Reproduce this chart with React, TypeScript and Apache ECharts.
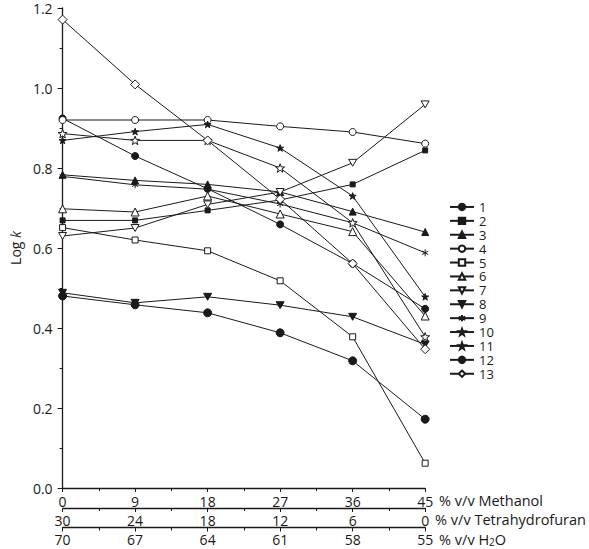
import React, { useEffect, useRef } from 'react';
import * as echarts from 'echarts';

const methanol = [0, 9, 18, 27, 36, 45];
const thfLabels = ['30', '24', '18', '12', '6', '0'];
const h2oLabels = ['70', '67', '64', '61', '58', '55'];
const seriesNames = ['1', '2', '3', '4', '5', '6', '7', '8', '9', '10', '11', '12', '13'];

const s1 = [0.924, 0.83, 0.748, 0.659, 0.561, 0.448];
const s2 = [0.669, 0.669, 0.694, 0.72, 0.759, 0.844];
const s3 = [0.783, 0.769, 0.759, 0.74, 0.691, 0.64];
const s4 = [0.92, 0.92, 0.92, 0.904, 0.89, 0.861];
const s5 = [0.651, 0.62, 0.593, 0.518, 0.378, 0.062];
const s6 = [0.698, 0.69, 0.73, 0.685, 0.641, 0.43];
const s7 = [0.63, 0.65, 0.709, 0.74, 0.813, 0.959];
const s8 = [0.488, 0.463, 0.478, 0.457, 0.428, 0.359];
const s9 = [0.779, 0.758, 0.747, 0.71, 0.663, 0.588];
const s10 = [0.886, 0.869, 0.869, 0.8, 0.663, 0.378];
const s11 = [0.869, 0.891, 0.909, 0.85, 0.73, 0.478];
const s12 = [0.48, 0.458, 0.438, 0.388, 0.318, 0.172];
const s13 = [1.171, 1.009, 0.869, 0.722, 0.561, 0.347];
const allValues = [s1, s2, s3, s4, s5, s6, s7, s8, s9, s10, s11, s12, s13];

const STAR = 'path://M0,-10L2.35,-3.24L9.51,-3.09L3.8,1.24L5.88,8.09L0,4L-5.88,8.09L-3.8,1.24L-9.51,-3.09L-2.35,-3.24Z';
const TRI_DOWN = 'path://M0,0L10,0L5,8.66Z';
const ASTER = 'path://M5,0L5,10M0.67,2.5L9.33,7.5M0.67,7.5L9.33,2.5';

const markers = [
  { symbol: 'circle', size: 7, filled: true },
  { symbol: 'rect', size: 5, filled: true },
  { symbol: 'triangle', size: 7, filled: true },
  { symbol: 'circle', size: 7, filled: false },
  { symbol: 'rect', size: 6, filled: false },
  { symbol: 'triangle', size: 8, filled: false },
  { symbol: TRI_DOWN, size: 8, filled: false },
  { symbol: TRI_DOWN, size: 8, filled: true },
  { symbol: ASTER, size: 7, filled: true },
  { symbol: STAR, size: 9, filled: false },
  { symbol: STAR, size: 7, filled: true },
  { symbol: 'circle', size: 8, filled: true },
  { symbol: 'diamond', size: 9, filled: false },
];

const FONT = 'Open Sans';
const INK = '#1a1a1a';

function makeXAxis(offset: number, labels: string[] | null, name: string, margin: number, namePad: number, rich?: any) {
  return {
    type: 'value',
    min: 0,
    max: 45,
    interval: 9,
    position: 'bottom',
    offset,
    axisLine: { show: true, onZero: false, lineStyle: { color: INK, width: 1.3 } },
    axisTick: { show: true, inside: false, length: 4, lineStyle: { color: INK, width: 1 } },
    minorTick: { show: true, splitNumber: 2, length: 3, lineStyle: { color: INK, width: 1 } },
    splitLine: { show: false },
    minorSplitLine: { show: false },
    axisLabel: {
      fontSize: 14,
      lineHeight: 12,
      fontFamily: FONT,
      color: INK,
      margin,
      formatter: (v: number) => (labels ? labels[Math.round(v / 9)] : String(v)),
    },
    name,
    nameLocation: 'end',
    nameGap: 2,
    nameTextStyle: {
      fontSize: 14.5,
      lineHeight: 14,
      fontFamily: FONT,
      color: INK,
      verticalAlign: 'top',
      align: 'left',
      padding: [namePad, 0, 0, 0],
      rich,
    },
  };
}

export default function App() {
  const ref = useRef<HTMLDivElement>(null);
  useEffect(() => {
    document.body.style.margin = '0';
    const chart = echarts.init(ref.current!, null, { renderer: 'svg' });
    const series = allValues.map((vals, i) => {
      const m = markers[i];
      return {
        name: seriesNames[i],
        type: 'line',
        xAxisIndex: 0,
        data: vals.map((v, j) => [methanol[j], v]),
        symbol: m.symbol,
        symbolSize: m.size,
        symbolKeepAspect: true,
        showSymbol: true,
        lineStyle: { color: INK, width: 1 },
        itemStyle: {
          color: m.filled ? INK : '#fff',
          borderColor: INK,
          borderWidth: 1,
        },
        emphasis: { disabled: true },
        z: 2 + i,
      };
    });
    chart.setOption({
      animation: false,
      backgroundColor: '#fff',
      grid: { left: 57, right: 157, top: 8, bottom: 61 },
      legend: {
        orient: 'vertical',
        left: 449,
        top: 200,
        padding: 0,
        itemWidth: 24,
        itemHeight: 8,
        itemGap: 0,
        textStyle: { fontSize: 13, lineHeight: 13.9, fontFamily: FONT, color: INK },
        data: seriesNames,
      },
      xAxis: [
        makeXAxis(0, null, '% v/v Methanol', 7, 5),
        makeXAxis(20, thfLabels, '% v/v Tetrahydrofuran', 6, 4),
        makeXAxis(39.5, h2oLabels, '% v/v H{sub|2}O', 6, 5, {
          sub: { fontSize: 10, lineHeight: 14, fontFamily: FONT, color: INK, verticalAlign: 'bottom' },
        }),
      ],
      yAxis: {
        type: 'value',
        min: 0,
        max: 1.2,
        interval: 0.2,
        axisLine: { show: true, onZero: false, lineStyle: { color: INK, width: 1.3 } },
        axisTick: { show: true, length: 5, lineStyle: { color: INK, width: 1 } },
        minorTick: { show: true, splitNumber: 2, length: 3, lineStyle: { color: INK, width: 1 } },
        splitLine: { show: false },
        axisLabel: {
          fontSize: 14,
          lineHeight: 12,
          fontFamily: FONT,
          color: INK,
          margin: 10,
          formatter: (v: number) => v.toFixed(1),
        },
        name: 'Log {i|k}',
        nameLocation: 'middle',
        nameGap: 36,
        nameTextStyle: {
          fontSize: 14,
          fontFamily: FONT,
          color: INK,
          rich: { i: { fontSize: 14, fontFamily: FONT, color: INK, fontStyle: 'italic' } },
        },
      },
      series,
    });
    return () => chart.dispose();
  }, []);
  return <div ref={ref} style={{ width: 589, height: 549 }} />;
}
